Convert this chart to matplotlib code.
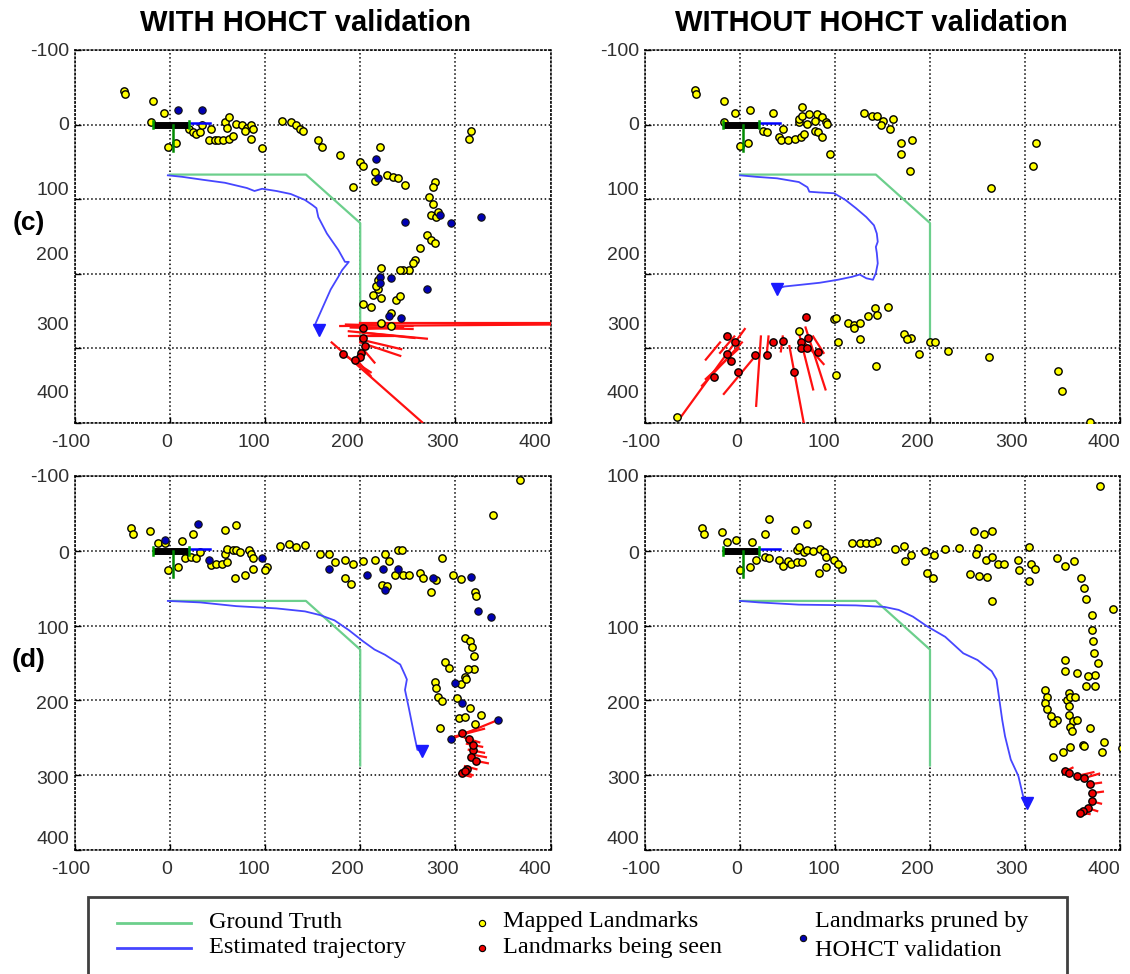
import matplotlib
matplotlib.use("Agg")
import matplotlib.pyplot as plt
from matplotlib.patches import Rectangle
from matplotlib.lines import Line2D
from matplotlib.transforms import ScaledTranslation

# ---- data ----
gt_x = [0, 143, 200, 200]
gt_y = [67, 67, 132, 287]

start_bar_x, start_bar_y = [-18, 20], [0, 0]
start_blue_x, start_blue_y = [20, 42], [-2, -2]
start_green_x, start_green_y = [3, 3], [0, 35]

tl_est = [(-2, 68), (13, 70), (35, 74), (58, 78), (81, 85), (89, 89), (97, 86), (112, 89), (127, 93),
          (142, 101), (150, 108), (154, 112), (156, 124), (165, 146), (177, 168), (184, 184), (188, 184),
          (181, 195), (177, 204), (169, 221), (162, 241), (154, 264), (152, 270), (157, 275)]
tr_est = [(0, 68), (17, 70), (39, 72), (62, 77), (71, 84), (73, 90), (84, 91), (99, 92), (111, 101),
          (122, 112), (133, 124), (141, 135), (144, 146), (145, 157), (143, 164), (144, 172), (145, 186),
          (143, 199), (140, 208), (133, 206), (126, 201), (118, 204), (103, 208), (84, 212), (62, 215),
          (47, 217), (39, 220)]
bl_est = [(-2, 67), (32, 69), (70, 74), (112, 77), (142, 81), (158, 86), (173, 93), (188, 106), (203, 121),
          (215, 132), (226, 139), (242, 152), (247, 166), (249, 172), (247, 186), (251, 210), (257, 248),
          (260, 266), (265, 268)]
br_est = [(0, 67), (20, 69), (62, 72), (122, 73), (152, 75), (167, 79), (182, 88), (197, 101), (216, 115),
          (235, 137), (250, 146), (265, 161), (270, 172), (272, 190), (276, 226), (279, 248), (285, 279),
          (293, 301), (298, 328), (302, 337)]

tl_mapped = [(-48, -45), (-47, -41), (-18, -32), (-6, -16), (-20, -3), (-2, 30), (7, 25), (20, 6), (24, 10),
             (28, 12), (32, 10), (34, 1), (43, 6), (41, 21), (47, 21), (51, 21), (56, 21), (62, 19), (66, 15),
             (58, -3), (62, -10), (60, 4), (70, -1), (76, 1), (81, 4), (85, 1), (79, 8), (87, 6), (85, 19),
             (97, 32), (118, -5), (127, -3), (133, 1), (137, 6), (140, 8), (156, 21), (160, 30), (179, 41),
             (200, 50), (203, 55), (221, 30), (192, 84), (215, 64), (215, 75), (228, 68), (234, 70), (240, 72),
             (247, 81), (278, 77), (276, 84), (272, 97), (276, 106), (274, 121), (280, 124), (282, 117),
             (270, 148), (274, 155), (278, 159), (263, 166), (257, 181), (255, 186), (251, 195), (245, 195),
             (242, 195), (222, 192), (219, 208), (219, 221), (213, 228), (203, 241), (211, 244), (222, 232),
             (238, 235), (242, 230), (232, 252), (222, 266), (232, 270), (314, 19), (316, 8), (217, 217)]
tl_pruned = [(9, -20), (34, -19), (217, 46), (219, 72), (247, 130), (284, 121), (295, 132), (327, 124),
             (270, 221), (232, 206), (221, 204), (221, 212), (230, 257), (243, 259)]
tl_seen = [(203, 286), (205, 297), (201, 306), (200, 312), (194, 315), (182, 308), (203, 272)]
tl_rays = [((179, 270), (402, 268)), ((200, 266), (400, 266)), ((185, 268), (255, 270)),
           ((190, 272), (255, 274)), ((203, 274), (245, 272)), ((188, 277), (270, 287)),
           ((203, 279), (257, 286)), ((188, 284), (234, 284)), ((200, 288), (243, 301)),
           ((200, 292), (242, 310)), ((170, 292), (265, 399)), ((180, 306), (211, 332)),
           ((196, 315), (211, 337)), ((203, 301), (215, 319))]

tr_mapped = [(-47, -46), (-46, -41), (-17, -32), (-5, -16), (11, -19), (35, -16), (-17, -3), (0, 29), (8, 24),
             (24, 8), (28, 10), (45, 6), (41, 17), (43, 21), (50, 21), (58, 19), (64, 17), (67, 12), (62, -3),
             (62, -8), (65, -23), (65, -12), (73, -14), (81, -14), (86, -10), (90, -3), (92, -1), (71, -1),
             (79, -5), (79, 8), (82, 10), (86, 16), (95, 39), (131, -16), (139, -12), (144, -11), (150, -5),
             (148, 1), (161, -8), (158, 6), (169, 24), (169, 40), (181, 20), (179, 62), (264, 85), (312, 24),
             (308, 56), (156, 244), (142, 246), (144, 255), (135, 257), (99, 261), (101, 259), (114, 266),
             (120, 268), (126, 266), (120, 272), (126, 288), (103, 292), (173, 281), (180, 286), (176, 288),
             (188, 308), (200, 292), (205, 292), (219, 304), (262, 311), (143, 323), (101, 335), (335, 330),
             (339, 357), (368, 399), (-66, 392), (62, 277)]
tr_pruned = []
tr_seen = [(69, 258), (-14, 283), (-5, 292), (-14, 308), (-10, 317), (-27, 339), (-2, 332), (16, 309),
           (28, 309), (35, 292), (45, 290), (57, 332), (64, 292), (64, 299), (72, 286), (71, 300), (82, 305)]
tr_rays = [((5, 274), (-64, 395)), ((2, 292), (-40, 350)), ((-2, 301), (-36, 341)), ((13, 315), (-17, 361)),
           ((22, 284), (17, 377)), ((30, 284), (28, 310)), ((45, 284), (43, 304)), ((52, 297), (67, 399)),
           ((62, 279), (77, 355)), ((69, 272), (90, 355)), ((65, 288), (88, 321)), ((77, 284), (88, 306)),
           ((-21, 292), (-36, 315)), ((-6, 284), (-21, 306))]

bl_mapped = [(-41, -30), (-39, -23), (-21, -27), (-12, -11), (-5, -11), (13, -13), (24, -22), (58, -28),
             (70, -35), (-2, 26), (9, 21), (16, 10), (22, 8), (28, 9), (32, 1), (43, 19), (49, 18), (55, 17),
             (60, 15), (58, 4), (60, -3), (66, -1), (70, -1), (74, 1), (83, -1), (85, 4), (87, 10), (87, 24),
             (68, 37), (79, 32), (102, 21), (100, 26), (116, -6), (125, -9), (133, -5), (142, -8), (158, 4),
             (167, 4), (173, 15), (184, 12), (192, 18), (184, 37), (190, 44), (203, 13), (215, 12), (226, 4),
             (240, -1), (244, -1), (230, 13), (236, 32), (245, 32), (251, 32), (263, 30), (266, 37), (274, 55),
             (280, 39), (286, 9), (297, 32), (306, 38), (320, 55), (322, 61), (223, 46), (228, 47), (339, -48),
             (368, -95), (289, 149), (293, 157), (278, 175), (280, 184), (282, 195), (286, 201), (284, 237),
             (310, 117), (315, 121), (317, 128), (319, 140), (319, 158), (313, 158), (310, 169), (306, 178),
             (311, 172), (302, 197), (315, 210), (304, 224), (310, 222), (327, 219), (321, 232)]
bl_pruned = [(30, -36), (-5, -14), (41, 12), (97, 9), (167, 24), (207, 32), (224, 24), (240, 24), (226, 52),
             (276, 37), (316, 35), (324, 81), (337, 88), (299, 177), (307, 204), (345, 226), (295, 252)]
bl_seen = [(307, 244), (314, 252), (318, 266), (316, 275), (322, 281), (312, 292), (307, 297), (318, 259),
           (310, 295)]
bl_rays = [((295, 252), (345, 226)), ((300, 248), (330, 238)), ((305, 245), (320, 240)),
           ((310, 250), (325, 256)), ((312, 258), (328, 262)), ((314, 266), (330, 270)),
           ((316, 272), (332, 276)), ((318, 280), (334, 284)), ((310, 288), (322, 292)),
           ((306, 294), (318, 300)), ((304, 298), (316, 302))]

br_mapped = [(-40, -30), (-38, -23), (-19, -25), (-14, -12), (-4, -14), (13, -12), (26, -22), (30, -42),
             (58, -28), (71, -36), (0, 26), (11, 21), (17, 12), (26, 8), (30, 9), (41, 12), (45, 20), (50, 13),
             (54, 17), (60, 15), (65, 15), (60, -1), (62, -5), (67, 1), (71, -1), (77, 0), (84, -3), (88, 1),
             (90, 8), (90, 21), (83, 30), (99, 12), (107, 24), (103, 18), (118, -10), (126, -10), (133, -11),
             (144, -13), (139, -10), (163, -3), (173, -7), (180, 6), (174, 13), (195, 0), (204, 6), (197, 30),
             (203, 36), (216, -3), (231, -4), (246, -26), (257, -22), (265, -26), (250, -4), (248, 4), (259, 12),
             (265, 8), (272, 18), (278, 17), (242, 31), (252, 34), (260, 35), (265, 67), (293, 12), (294, 25),
             (304, -5), (306, 18), (310, 24), (304, 41), (334, 9), (342, 20), (352, 13), (359, 37), (362, 50),
             (364, 65), (371, 86), (370, 106), (372, 121), (373, 137), (377, 150), (374, 166), (366, 168),
             (364, 181), (374, 181), (355, 164), (342, 146), (342, 161), (393, 78), (379, -86), (402, 264),
             (383, 255), (381, 269), (368, 237), (361, 259), (362, 261), (347, 262), (340, 269), (329, 275),
             (321, 186), (323, 195), (321, 204), (323, 212), (327, 221), (334, 226), (329, 230), (346, 190),
             (344, 199), (347, 195), (353, 195), (346, 208), (346, 219), (351, 228), (347, 235), (355, 226),
             (349, 241)]
br_pruned = []
br_seen = [(342, 295), (346, 297), (355, 301), (362, 304), (368, 312), (370, 324), (370, 335), (366, 344),
           (361, 348), (358, 350)]
br_rays = [((342, 295), (350, 290)), ((355, 301), (372, 296)), ((362, 304), (378, 298)),
           ((368, 312), (380, 310)), ((370, 324), (382, 322)), ((370, 335), (380, 338)),
           ((366, 344), (376, 348)), ((358, 350), (368, 352))]

x_ticks = [-100, 0, 100, 200, 300, 400]
y_ticks = [-100, 0, 100, 200, 300, 400]
x_labels = ["-100", "0", "100", "200", "300", "400"]
y_labels_default = ["-100", "0", "100", "200", "300", "400"]
y_labels_br = ["100", "0", "100", "200", "300", "400"]

titles = ["WITH HOHCT validation", "WITHOUT HOHCT validation"]
row_labels = ["(c)", "(d)"]

# ---- figure ----
W, H = 1130, 974
fig = plt.figure(figsize=(W / 100, H / 100), dpi=100)
plt.rcParams['font.family'] = ['Liberation Sans', 'DejaVu Sans']

GT_COL = '#6ccf8c'
EST_COL = '#4646ff'
YEL = '#ffff00'
BLU = '#0000b4'
RED = '#ee0000'


def fx(px):
    return px / W


def fy(py):
    return 1 - py / H


# pixel boxes: left, right, top, bottom
boxes = [(74.5, 550.7, 50, 423), (645, 1120, 50, 423),
         (74.5, 550.7, 476, 850), (645, 1120, 476, 850)]
panels = [(tl_est, tl_mapped, tl_pruned, tl_seen, tl_rays),
          (tr_est, tr_mapped, tr_pruned, tr_seen, tr_rays),
          (bl_est, bl_mapped, bl_pruned, bl_seen, bl_rays),
          (br_est, br_mapped, br_pruned, br_seen, br_rays)]

# the tick labels in the picture sit a little off their grid lines
x_label_dx = [-4, -3, -11, -13, -13, -16]
y_label_dy_top = [0, -1, -11, -20, -25, -31]
y_label_dy_bottom = [0, 2, 2, 2, 2, -12]

for i, ((l, r, t, b), (est, mapped, pruned, seen, rays)) in enumerate(zip(boxes, panels)):
    ax = fig.add_axes([fx(l), fy(b), (r - l) / W, (b - t) / H])
    ax.set_xlim(-100, 400)
    ax.set_ylim(400, -100)
    ax.set_xticks(x_ticks)
    ax.set_xticklabels(x_labels)
    ax.set_yticks(y_ticks)
    ax.set_yticklabels(y_labels_br if i == 3 else y_labels_default)
    ax.grid(True, linestyle=':', color='black', linewidth=1.1)
    for s in ax.spines.values():
        s.set_linestyle(':')
        s.set_linewidth(1.1)
    ax.tick_params(direction='in', length=4, width=1, colors='black', labelcolor='#303030',
                   labelsize=14)
    ax.tick_params(axis='x', pad=8)
    ax.tick_params(axis='y', pad=4)

    for lab, dx in zip(ax.get_xticklabels(), x_label_dx):
        lab.set_transform(lab.get_transform() + ScaledTranslation(dx / 100, 0, fig.dpi_scale_trans))
    dys = y_label_dy_top if i < 2 else y_label_dy_bottom
    for lab, dy in zip(ax.get_yticklabels(), dys):
        lab.set_transform(lab.get_transform() + ScaledTranslation(0, -dy / 100, fig.dpi_scale_trans))

    ax.plot(gt_x, gt_y, color=GT_COL, lw=1.6, zorder=3)
    ex = [p[0] for p in est]
    ey = [p[1] for p in est]
    ax.plot(ex, ey, color=EST_COL, lw=1.3, zorder=3)
    ax.plot(ex[-1], ey[-1], marker='v', color='#1a1aff', markersize=9, zorder=4)

    for (x0, y0), (x1, y1) in rays:
        ax.plot([x0, x1], [y0, y1], color='#ff1010', lw=1.6, zorder=4)

    ax.scatter([p[0] for p in mapped], [p[1] for p in mapped], s=28, c=YEL,
               edgecolors='black', linewidths=1.0, zorder=5)
    if pruned:
        ax.scatter([p[0] for p in pruned], [p[1] for p in pruned], s=28, c=BLU,
                   edgecolors='#101010', linewidths=0.8, zorder=5)
    ax.scatter([p[0] for p in seen], [p[1] for p in seen], s=28, c=RED,
               edgecolors='black', linewidths=1.0, zorder=6)

    ax.plot(start_bar_x, start_bar_y, color='black', lw=5, solid_capstyle='butt', zorder=6)
    ax.plot(start_blue_x, start_blue_y, color='#0000ff', lw=1.8, zorder=6)
    ax.plot(start_green_x, start_green_y, color='#008a00', lw=1.8, zorder=6)
    ax.plot([start_bar_x[0], start_bar_x[0]], [-5, 5], color='#00a000', lw=1.8, zorder=7)
    ax.plot([start_bar_x[1], start_bar_x[1]], [-5, 5], color='#00a000', lw=1.8, zorder=7)

# titles and row labels
fig.text(fx(305), fy(23), titles[0], ha='center', va='center', fontsize=21, fontweight='bold')
fig.text(fx(871), fy(23), titles[1], ha='center', va='center', fontsize=21, fontweight='bold')
fig.text(fx(29), fy(223), row_labels[0], ha='center', va='center', fontsize=19, fontweight='bold')
fig.text(fx(29), fy(660), row_labels[1], ha='center', va='center', fontsize=19, fontweight='bold')

# legend box
fig.add_artist(Rectangle((fx(88), fy(990)), (1067 - 88) / W, (990 - 897) / H,
                         transform=fig.transFigure, fill=False, edgecolor='#404040', lw=2))
fig.add_artist(Line2D([fx(117), fx(191)], [fy(923), fy(923)], transform=fig.transFigure,
                      color=GT_COL, lw=2))
fig.add_artist(Line2D([fx(117), fx(191)], [fy(948), fy(948)], transform=fig.transFigure,
                      color=EST_COL, lw=2))
fig.add_artist(Line2D([fx(482)], [fy(923)], transform=fig.transFigure, marker='o', markersize=4.5,
                      markerfacecolor=YEL, markeredgecolor='black', markeredgewidth=0.8))
fig.add_artist(Line2D([fx(482)], [fy(948)], transform=fig.transFigure, marker='o', markersize=4.5,
                      markerfacecolor=RED, markeredgecolor='black', markeredgewidth=0.8))
fig.add_artist(Line2D([fx(803)], [fy(938)], transform=fig.transFigure, marker='o', markersize=4.5,
                      markerfacecolor=BLU, markeredgecolor='#101010', markeredgewidth=0.8))

serif = ['Liberation Serif', 'DejaVu Serif']
legend_texts = [(209, 922, "Ground Truth"), (209, 947, "Estimated trajectory"),
                (503, 922, "Mapped Landmarks"), (503, 947, "Landmarks being seen"),
                (815, 922, "Landmarks pruned by"), (815, 950, "HOHCT validation")]
for x, y, s in legend_texts:
    fig.text(fx(x), fy(y), s, ha='left', va='center', fontsize=17.5, family=serif)

fig.savefig("out.png", dpi=100)
